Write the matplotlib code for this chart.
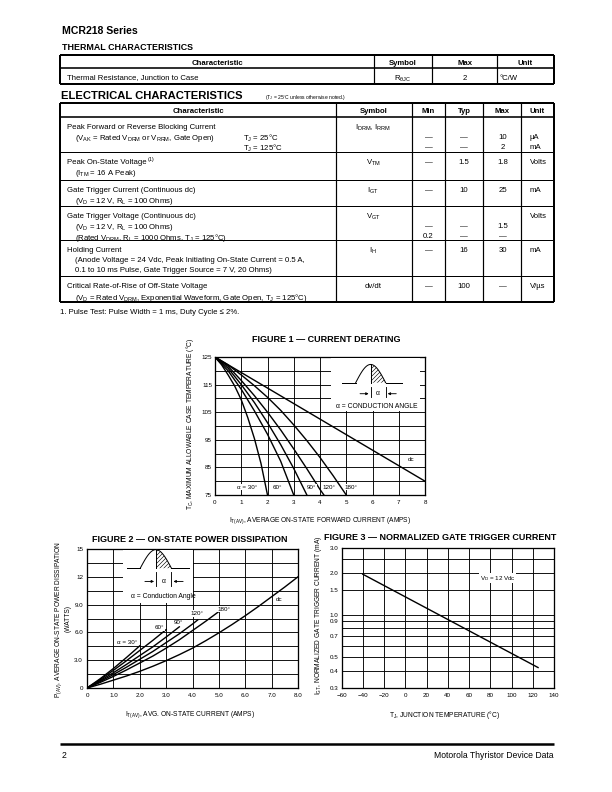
import numpy as np
import matplotlib.pyplot as plt
from matplotlib.patches import Rectangle

plt.rcParams['font.family'] = ['Liberation Sans', 'DejaVu Sans']
plt.rcParams['mathtext.fontset'] = 'custom'
plt.rcParams['mathtext.rm'] = 'Liberation Sans'
plt.rcParams['mathtext.it'] = 'Liberation Sans:italic'
plt.rcParams['mathtext.bf'] = 'Liberation Sans:bold'
plt.rcParams['hatch.linewidth'] = 0.6


def sb(t):
    # subscript in upright font
    return r'$_{\mathregular{%s}}$' % t


# ---------------- table data ----------------
thermal_head = ['Characteristic', 'Symbol', 'Max', 'Unit']
thermal_vals = ['Thermal Resistance, Junction to Case', 'R' + sb('θJC'), '2', '°C/W']

elec_head = ['Characteristic', 'Symbol', 'Min', 'Typ', 'Max', 'Unit']
elec_text = [
    ['Peak Forward or Reverse Blocking Current',
     '(V' + sb('AK') + ' = Rated V' + sb('DRM') + ' or V' + sb('RRM') + ', Gate Open)'],
    ['Peak On-State Voltage',
     '(I' + sb('TM') + ' = 16 A Peak)'],
    ['Gate Trigger Current (Continuous dc)',
     '(V' + sb('D') + ' = 12 V, R' + sb('L') + ' = 100 Ohms)'],
    ['Gate Trigger Voltage (Continuous dc)',
     '(V' + sb('D') + ' = 12 V, R' + sb('L') + ' = 100 Ohms)',
     '(Rated V' + sb('DRM') + ', R' + sb('L') + ' = 1000 Ohms, T' + sb('J') + ' = 125°C)'],
    ['Holding Current',
     '(Anode Voltage = 24 Vdc, Peak Initiating On-State Current = 0.5 A,',
     '0.1 to 10 ms Pulse, Gate Trigger Source = 7 V, 20 Ohms)'],
    ['Critical Rate-of-Rise of Off-State Voltage',
     '(V' + sb('D') + ' = Rated V' + sb('DRM') + ', Exponential Waveform, Gate Open, T' + sb('J') + ' = 125°C)'],
]
elec_cond = ['', 'T' + sb('J') + ' = 25°C', 'T' + sb('J') + ' = 125°C']
elec_symbol = ['I' + sb('DRM') + ', I' + sb('RRM'), 'V' + sb('TM'), 'I' + sb('GT'),
               'V' + sb('GT'), 'I' + sb('H'), 'dv/dt']
elec_min = [['', '—', '—'], ['—'], ['—'], ['', '—', '0.2'], ['—'], ['—']]
elec_typ = [['', '—', '—'], ['1.5'], ['10'], ['', '—', '—'], ['16'], ['100']]
elec_max = [['', '10', '2'], ['1.8'], ['25'], ['', '1.5', '—'], ['30'], ['—']]
elec_unit = [['', 'µA', 'mA'], ['Volts'], ['mA'], ['Volts'], ['mA'], ['V/µs']]

# ---------------- figure 1 data (current derating) ----------------
f1_x30 = [0, 0.25, 0.5, 0.75, 1.0, 1.25, 1.5, 1.75, 2.0]
f1_y30 = [125, 122.2, 118.5, 114.5, 109.5, 103.0, 95.5, 86.5, 75]
f1_x60 = [0, 0.5, 1.0, 1.5, 2.0, 2.5, 3.0]
f1_y60 = [125, 120.0, 113.3, 105.5, 97.0, 87.3, 75]
f1_x90 = [0, 0.5, 1.0, 1.5, 2.0, 2.5, 3.0, 3.5]
f1_y90 = [125, 120.9, 115.0, 108.5, 101.2, 93.3, 84.6, 75]
f1_x120 = [0, 0.5, 1.0, 1.5, 2.0, 2.5, 3.0, 3.5, 4.0, 4.15]
f1_y120 = [125, 121.6, 116.5, 111.0, 105.0, 98.6, 91.7, 84.5, 77.0, 75]
f1_x180 = [0, 0.5, 1.0, 1.5, 2.0, 2.5, 3.0, 3.5, 4.0, 4.5, 5.0]
f1_y180 = [125, 122.1, 118.5, 114.6, 110.4, 105.7, 100.4, 94.7, 88.6, 82.0, 75]
f1_xdc = [0, 8]
f1_ydc = [125, 80]

# ---------------- figure 2 data (power dissipation) ----------------
f2_x30 = [0, 0.5, 1.0, 1.5, 2.0]
f2_y30 = [0, 1.0, 2.1, 3.3, 4.55]
f2_x60 = [0, 0.5, 1.0, 1.5, 2.0, 2.5, 3.0]
f2_y60 = [0, 0.9, 1.9, 2.95, 4.05, 5.15, 6.3]
f2_x90 = [0, 0.5, 1.0, 1.5, 2.0, 2.5, 3.0, 3.5]
f2_y90 = [0, 0.8, 1.65, 2.55, 3.5, 4.45, 5.5, 6.6]
f2_x120 = [0, 0.5, 1.0, 1.5, 2.0, 2.5, 3.0, 3.5, 4.0, 4.2]
f2_y120 = [0, 0.7, 1.45, 2.25, 3.1, 3.95, 4.9, 5.85, 6.9, 7.35]
f2_x180 = [0, 0.5, 1.0, 1.5, 2.0, 2.5, 3.0, 3.5, 4.0, 4.5, 5.0]
f2_y180 = [0, 0.6, 1.25, 1.95, 2.7, 3.45, 4.3, 5.2, 6.2, 7.2, 8.25]
f2_xdc = [0, 0.5, 1.0, 1.5, 2.0, 2.5, 3.0, 3.5, 4.0, 4.5, 5.0, 5.5, 6.0, 6.5, 7.0, 7.5, 8.0]
f2_ydc = [0, 0.4, 0.85, 1.3, 1.8, 2.35, 2.95, 3.6, 4.3, 5.1, 5.95, 6.85, 7.8, 8.8, 9.85, 10.9, 12.0]

# ---------------- figure 3 data (gate trigger current) ----------------
f3_temp = [-40, 125]
f3_igt = [1.95, 0.42]

W, H = 612, 792
fig = plt.figure(figsize=(8.5, 11), dpi=72)

page = fig.add_axes([0, 0, 1, 1])
page.set_xlim(0, W)
page.set_ylim(H, 0)
page.axis('off')

BODY = 7.8


def T(x, y, s, size=BODY, ha='left', weight='normal', **kw):
    return page.text(x, y, s, fontsize=size, ha=ha, va='center_baseline', fontweight=weight, **kw)


def hline(y, x0, x1, lw):
    page.plot([x0, x1], [y, y], color='black', lw=lw, solid_capstyle='butt')


def vline(x, y0, y1, lw):
    page.plot([x, x], [y0, y1], color='black', lw=lw, solid_capstyle='butt')


# header texts
T(62, 30, 'MCR218 Series', size=10.5, weight='heavy')
T(62, 46, 'THERMAL CHARACTERISTICS', size=8.9, weight='bold')

# thermal table
th_cols = [60, 374, 432, 497, 554]
th_rows = [55, 68, 84]
hline(th_rows[0], th_cols[0], th_cols[-1], 2.0)
hline(th_rows[1], th_cols[0], th_cols[-1], 1.6)
hline(th_rows[2], th_cols[0], th_cols[-1], 2.0)
for i, xc in enumerate(th_cols):
    vline(xc, th_rows[0], th_rows[2], 2.0 if i in (0, len(th_cols) - 1) else 1.2)
for i, h in enumerate(thermal_head):
    T((th_cols[i] + th_cols[i + 1]) / 2, 62.5, h, ha='center', weight='bold')
T(67, 77, thermal_vals[0])
T(403, 77, thermal_vals[1], ha='center')
T(465, 77, thermal_vals[2], ha='center')
T(500, 77, thermal_vals[3])

T(61, 95, 'ELECTRICAL CHARACTERISTICS', size=11.2, weight='bold')
T(265, 96, '(T' + sb('J') + ' = 25°C unless otherwise noted.)', size=5.0)

# electrical table
el_cols = [60, 336, 412, 445, 483, 521, 554]
row_tops = [103, 117, 152, 180, 206, 240, 276, 302]
hline(row_tops[0], el_cols[0], el_cols[-1], 2.0)
hline(row_tops[1], el_cols[0], el_cols[-1], 1.6)
for yr in row_tops[2:-1]:
    hline(yr, el_cols[0], el_cols[-1], 1.0)
hline(row_tops[-1], el_cols[0], el_cols[-1], 2.0)
for i, xc in enumerate(el_cols):
    vline(xc, row_tops[0], row_tops[-1], 2.0 if i in (0, len(el_cols) - 1) else 1.2)
for i, h in enumerate(elec_head):
    T((el_cols[i] + el_cols[i + 1]) / 2, 110.5, h, ha='center', weight='bold')

first_lines = []
for r in range(len(elec_text)):
    y0 = row_tops[r + 1] + 9.5
    for k, line in enumerate(elec_text[r]):
        t = T(67 if k == 0 else 75, y0 + 10 * k, line)
        if k == 0:
            first_lines.append(t)
    T(373, y0, elec_symbol[r], ha='center')
    for k, v in enumerate(elec_min[r]):
        T(428.5, y0 + 10 * k, v, ha='center')
    for k, v in enumerate(elec_typ[r]):
        T(464, y0 + 10 * k, v, ha='center')
    for k, v in enumerate(elec_max[r]):
        T(503, y0 + 10 * k, v, ha='center')
    for k, v in enumerate(elec_unit[r]):
        T(530, y0 + 10 * k, v)
for k, v in enumerate(elec_cond):
    T(243, row_tops[1] + 9.5 + 10 * k, v)

# footnote marker after "Peak On-State Voltage"
fig.canvas.draw()
bb = first_lines[1].get_window_extent()
x_end = page.transData.inverted().transform((bb.x1, bb.y0))[0]
T(x_end + 0.5, row_tops[2] + 6.5, '(1)', size=5.4)

T(60, 311, '1. Pulse Test: Pulse Width = 1 ms, Duty Cycle ≤ 2%.', size=BODY)

# footer
hline(744, 60, 554, 2.5)
T(62, 755, '2', size=8.6)
T(554, 755, 'Motorola Thyristor Device Data', size=8.6, ha='right')


def px_axes(l, t, r, b):
    return fig.add_axes([l / W, 1 - b / H, (r - l) / W, (b - t) / H])


def style(ax):
    ax.set_axisbelow(True)
    ax.grid(which='both', color='black', lw=0.9)
    ax.tick_params(which='both', length=0, labelsize=6.3)
    for s in ax.spines.values():
        s.set_linewidth(1.3)


def wave_icon(ax, x0, x1, xp, xe, x2, base, amp, ya, yt0, yt1, xl, xr, label_y, label, fs):
    # little half-sine sketch with shaded conduction angle
    xs = np.linspace(x0, xe, 60)
    ys = base + amp * np.sin(np.pi * (xs - x0) / (xe - x0))
    ax.plot([x1, x0], [base, base], color='black', lw=1.0, zorder=5)
    ax.plot(xs, ys, color='black', lw=1.0, zorder=5)
    ax.plot([xe, x2], [base, base], color='black', lw=1.0, zorder=5)
    ax.plot([xp, xp], [base, base + amp], color='black', lw=1.0, zorder=5)
    ax.fill_between(xs, base, ys, where=xs >= xp, facecolor='white', edgecolor='black',
                    hatch='//////', lw=0, zorder=4)
    ax.plot([xp, xp], [yt0, yt1], color='black', lw=0.9, zorder=5)
    ax.plot([xe, xe], [yt0, yt1], color='black', lw=0.9, zorder=5)
    ax.annotate('', xy=(xp, ya), xytext=(xl, ya), zorder=5,
                arrowprops=dict(arrowstyle='-|>', color='black', lw=0.9, mutation_scale=5))
    ax.annotate('', xy=(xe, ya), xytext=(xr, ya), zorder=5,
                arrowprops=dict(arrowstyle='-|>', color='black', lw=0.9, mutation_scale=5))
    ax.text((xp + xe) / 2, ya, 'α', fontsize=fs, ha='center', va='center', zorder=6)
    ax.text((x1 + x2) / 2 + 0.2, label_y, label, fontsize=fs, ha='center', va='center', zorder=6)


lbl_box = dict(facecolor='white', edgecolor='none', pad=0.6)
LBL = 6.3

# ---------------- FIGURE 1 ----------------
ax1 = px_axes(215, 357, 425, 495)
ax1.plot(f1_xdc, f1_ydc, color='black', lw=1.4, zorder=2)
ax1.plot(f1_x30, f1_y30, color='black', lw=1.4, zorder=2)
ax1.plot(f1_x60, f1_y60, color='black', lw=1.4, zorder=2)
ax1.plot(f1_x90, f1_y90, color='black', lw=1.4, zorder=2)
ax1.plot(f1_x120, f1_y120, color='black', lw=1.4, zorder=2)
ax1.plot(f1_x180, f1_y180, color='black', lw=1.4, zorder=2)
ax1.set_xlim(0, 8)
ax1.set_ylim(75, 125)
ax1.set_xticks(range(0, 9))
ax1.set_yticks([75, 85, 95, 105, 115, 125])
ax1.set_yticks([80, 90, 100, 110, 120], minor=True)
style(ax1)
ax1.tick_params(axis='y', pad=3)
ax1.tick_params(axis='x', pad=5)
ax1.add_patch(Rectangle((4.4, 105.3), 3.4, 19.4, facecolor='white', edgecolor='none', zorder=3))
wave_icon(ax1, 5.36, 4.83, 5.93, 6.5, 7.11, 115.7, 6.6, 111.7, 114.3, 110.4, 5.45, 6.98,
          107.0, 'α = CONDUCTION ANGLE', 6.7)
ax1.text(1.22, 77.8, 'α = 30°', fontsize=LBL, ha='center', va='center', bbox=lbl_box, zorder=6)
ax1.text(2.38, 77.8, '60°', fontsize=LBL, ha='center', va='center', bbox=lbl_box, zorder=6)
ax1.text(3.68, 77.8, '90°', fontsize=LBL, ha='center', va='center', bbox=lbl_box, zorder=6)
ax1.text(4.33, 77.8, '120°', fontsize=LBL, ha='center', va='center', bbox=lbl_box, zorder=6)
ax1.text(5.18, 77.8, '180°', fontsize=LBL, ha='center', va='center', bbox=lbl_box, zorder=6)
ax1.text(7.45, 87.8, 'dc', fontsize=LBL, ha='center', va='center', bbox=lbl_box, zorder=6)

T(326, 338, 'FIGURE 1 — CURRENT DERATING', size=9.0, ha='center', weight='bold')
T(320, 519, 'I' + sb('T(AV)') + ', AVERAGE ON-STATE FORWARD CURRENT (AMPS)', size=6.6, ha='center')
page.text(190, 424, 'T' + sb('C') + ', MAXIMUM ALLOWABLE CASE TEMPERATURE (°C)', fontsize=6.6,
          rotation=90, ha='center', va='center')

# ---------------- FIGURE 2 ----------------
ax2 = px_axes(87, 549, 298, 688)
ax2.plot(f2_xdc, f2_ydc, color='black', lw=1.4, zorder=2)
ax2.plot(f2_x30, f2_y30, color='black', lw=1.4, zorder=2)
ax2.plot(f2_x60, f2_y60, color='black', lw=1.4, zorder=2)
ax2.plot(f2_x90, f2_y90, color='black', lw=1.4, zorder=2)
ax2.plot(f2_x120, f2_y120, color='black', lw=1.4, zorder=2)
ax2.plot(f2_x180, f2_y180, color='black', lw=1.4, zorder=2)
ax2.set_xlim(0, 8)
ax2.set_ylim(0, 15)
ax2.set_xticks(range(0, 9))
ax2.set_xticklabels(['0', '1.0', '2.0', '3.0', '4.0', '5.0', '6.0', '7.0', '8.0'])
ax2.set_yticks([0, 3, 6, 9, 12, 15])
ax2.set_yticklabels(['0', '3.0', '6.0', '9.0', '12', '15'])
ax2.set_yticks([1.5, 4.5, 7.5, 10.5, 13.5], minor=True)
style(ax2)
ax2.tick_params(axis='y', pad=4)
ax2.tick_params(axis='x', pad=5)
ax2.add_patch(Rectangle((1.35, 9.2), 2.65, 5.7, facecolor='white', edgecolor='none', zorder=3))
wave_icon(ax2, 2.02, 1.52, 2.62, 3.2, 3.86, 12.93, 2.0, 11.5, 12.47, 11.0, 2.12, 3.72,
          9.85, 'α = Conduction Angle', 6.7)
ax2.text(1.52, 4.95, 'α = 30°', fontsize=LBL, ha='center', va='center', bbox=lbl_box, zorder=6)
ax2.text(2.74, 6.5, '60°', fontsize=LBL, ha='center', va='center', bbox=lbl_box, zorder=6)
ax2.text(3.47, 7.05, '90°', fontsize=LBL, ha='center', va='center', bbox=lbl_box, zorder=6)
ax2.text(4.17, 8.05, '120°', fontsize=LBL, ha='center', va='center', bbox=lbl_box, zorder=6)
ax2.text(5.2, 8.5, '180°', fontsize=LBL, ha='center', va='center', bbox=lbl_box, zorder=6)
ax2.text(7.3, 9.6, 'dc', fontsize=LBL, ha='center', va='center', bbox=lbl_box, zorder=6)

T(190, 538, 'FIGURE 2 — ON-STATE POWER DISSIPATION', size=9.0, ha='center', weight='bold')
T(190, 713, 'I' + sb('T(AV)') + ', AVG. ON-STATE CURRENT (AMPS)', size=6.6, ha='center')
page.text(59, 619, 'P' + sb('(AV)') + ', AVERAGE ON-STATE POWER DISSIPATION', fontsize=6.6,
          rotation=90, ha='center', va='center')
page.text(68, 618, '(WATTS)', fontsize=6.6, rotation=90, ha='center', va='center')

# ---------------- FIGURE 3 ----------------
ax3 = px_axes(341.5, 548, 554, 688)
ax3.plot(f3_temp, f3_igt, color='black', lw=1.4, zorder=2)
ax3.set_yscale('log')
ax3.set_xlim(-60, 140)
ax3.set_ylim(0.3, 3.0)
ax3.set_xticks(range(-60, 141, 20))
ytk = [0.3, 0.4, 0.5, 0.7, 0.9, 1.0, 1.5, 2.0, 3.0]
ax3.set_yticks(ytk)
ax3.set_yticklabels(['%.1f' % v for v in ytk])
ax3.set_yticks([0.6, 0.8, 2.5], minor=True)
ax3.yaxis.set_minor_formatter(plt.NullFormatter())
style(ax3)
ax3.tick_params(axis='y', pad=3)
ax3.tick_params(axis='x', pad=5)
ax3.text(70, 1.83, 'V' + sb('D') + ' = 12 Vdc', fontsize=LBL, ha='left', va='center',
         bbox=lbl_box, zorder=6)

T(440, 536, 'FIGURE 3 — NORMALIZED GATE TRIGGER CURRENT', size=9.0, ha='center', weight='bold')
T(445, 713, 'T' + sb('J') + ', JUNCTION TEMPERATURE (°C)', size=6.6, ha='center')
page.text(318, 615, 'I' + sb('GT') + ', NORMALIZED GATE TRIGGER CURRENT (mA)', fontsize=6.6,
          rotation=90, ha='center', va='center')

fig.savefig('out.png', dpi=72)
